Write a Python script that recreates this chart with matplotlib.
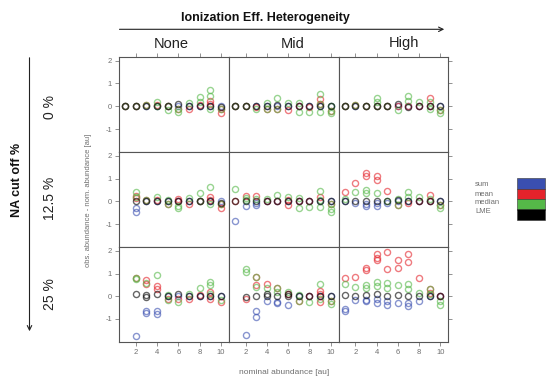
import numpy as np
import matplotlib
matplotlib.use("Agg")
import matplotlib.pyplot as plt
from matplotlib.patches import Rectangle

plt.rcParams['font.family'] = ['Liberation Sans', 'DejaVu Sans']

# ---------------- data ----------------
x_vals = [1, 2, 3, 4, 5, 6, 7, 8, 9, 10]
x_ticks = [2, 4, 6, 8, 10]
y_ticks = [-1, 0, 1, 2]
col_labels = ["None", "Mid", "High"]
row_labels = ["0 %", "12.5 %", "25 %"]
methods = ["sum", "mean", "median", "LME"]
method_colors = ["#3a4fb0", "#e4232b", "#55b848", "#000000"]

# each list: one list of replicate values per nominal abundance 1..10
none_0_sum = [[0], [0], [0], [0], [0], [0], [0], [0], [0], [0]]
none_0_mean = [[0], [0], [0.05], [0.05], [0], [-0.1], [-0.1], [0.05], [0.25, 0.1], [-0.1, -0.3]]
none_0_median = [[0], [0], [0.05], [0.2, 0], [0, -0.15], [-0.1, -0.25], [0.15], [0.4, 0.2], [0.7, 0.45, -0.1], [-0.1]]
none_0_lme = [[0], [0], [0], [0], [0], [0.1], [0], [0], [0], [-0.05]]

mid_0_sum = [[0], [0], [0], [0], [0], [0], [0], [0], [0], [0]]
mid_0_mean = [[0], [0], [-0.05], [-0.1], [-0.1], [-0.15], [0], [-0.05], [0.3, 0.1], [-0.2]]
mid_0_median = [[0], [0], [-0.1], [0.15, -0.1], [0.35, -0.1], [0.15], [0.15, -0.25], [-0.25], [0.55, 0.1, -0.25], [0, -0.3, -0.2]]
mid_0_lme = [[0], [0], [0], [0], [0.05], [0], [0], [0], [0], [0]]

high_0_sum = [[0], [0], [0], [0], [0], [0], [0], [0], [0], [0]]
high_0_mean = [[0], [0.05], [0], [0], [0], [0], [0], [0], [0.35, 0], [-0.15]]
high_0_median = [[0], [0.05], [0], [0.35, 0.2, 0], [0], [-0.15], [0.45, 0.25], [0.2], [0.2, -0.1], [-0.15, -0.3]]
high_0_lme = [[0], [0], [0], [0], [0], [0.1], [-0.05], [0], [0], [0]]

none_12_sum = [[], [-0.3, -0.45], [0], [0], [0], [0], [0], [0], [0], [0]]
none_12_mean = [[], [0.25, 0.15], [0.05], [0.05], [-0.1], [0, 0.1], [-0.1], [0], [0.2, 0.05], [-0.3, -0.1]]
none_12_median = [[], [0.4, 0.2], [0.05], [0.2], [0.05, -0.1], [-0.2, -0.3], [0.15], [0.35, 0], [0.65, -0.1], [-0.1]]
none_12_lme = [[], [0], [0], [0], [0], [0], [0], [0], [0], [-0.05]]

mid_12_sum = [[-0.85], [-0.2], [-0.05, -0.15], [0], [0], [0], [0], [0], [0], [0]]
mid_12_mean = [[0], [0.25], [0.25], [0], [0], [0.05, -0.15], [0], [0], [0.2], [-0.1]]
mid_12_median = [[0.55], [0.15, 0.05], [0.1], [0.1], [0.3], [0.2], [0.15, -0.3], [-0.25], [0.45, 0.05, -0.25], [-0.1, -0.35, -0.45]]
mid_12_lme = [[0], [0], [0], [0], [0], [0], [0], [0], [0], [0]]

high_12_sum = [[0], [-0.05], [-0.1, -0.2], [-0.05, -0.2], [-0.05], [0], [0], [0], [0], [0]]
high_12_mean = [[0.4], [0.8], [1.25, 1.1], [1.1, 0.95], [0.45], [-0.15], [-0.05], [0], [0.3, 0], [-0.15]]
high_12_median = [[0.1], [0.4], [0.5, 0.35], [0.35], [0], [0.1, -0.15], [0.4, 0.2], [0.2], [0.1], [-0.15, -0.3]]
high_12_lme = [[0], [0], [0], [0], [0], [0.05], [0], [0], [0], [0]]

none_25_sum = [[], [-1.75], [-0.65, -0.75], [-0.65, -0.8], [0], [0], [0], [0], [0], [0]]
none_25_mean = [[], [0.8], [0.7, 0.55], [0.45, 0.3], [-0.1], [-0.1], [-0.1], [0.05], [0.2, -0.1], [-0.25]]
none_25_median = [[], [0.8, 0.75], [0.6], [0.95], [0.05, -0.15], [-0.25], [0.1], [0.35], [0.65, 0.5, 0.1], [-0.15]]
none_25_lme = [[], [0.1], [0.05, -0.05], [0.1], [0], [0.1], [0], [0], [0], [0]]

mid_25_sum = [[], [-1.7], [-0.65, -0.9], [-0.2], [-0.25, -0.3], [-0.4], [0], [0], [0], [0]]
mid_25_mean = [[], [-0.1], [0.85, 0.5], [0.55], [0.35], [0.1], [-0.2], [0], [0.25, 0.1, -0.25], [-0.2]]
mid_25_median = [[], [1.2, 1.05], [0.85, 0.4], [0.35], [0.35, 0.2], [0.2], [0.05, -0.2], [-0.25], [0.55, -0.1], [-0.2, -0.35]]
mid_25_lme = [[], [-0.05], [0], [0.1, 0], [0], [0.1, 0], [0], [0], [0], [0]]

high_25_sum = [[-0.55, -0.65], [-0.15], [-0.15, -0.2], [-0.1, -0.3], [-0.2, -0.4], [-0.3], [-0.3, -0.45], [-0.2], [0], [0]]
high_25_mean = [[0.8], [0.85], [1.25, 1.15], [1.85, 1.7, 1.6], [1.95, 1.2], [1.6, 1.25], [1.85, 1.5], [0.8], [0.3, 0.15], [0]]
high_25_median = [[0.55], [0.4], [0.5, 0.35], [0.65, 0.45], [0.6, 0.35], [0.5], [0.55, 0.3], [0.15], [0.3, 0.1], [-0.2, -0.4]]
high_25_lme = [[0.05], [0], [0.05], [0.1], [0], [0.05], [0], [0], [0], [0]]

panels = [
    [(none_0_sum, none_0_mean, none_0_median, none_0_lme),
     (mid_0_sum, mid_0_mean, mid_0_median, mid_0_lme),
     (high_0_sum, high_0_mean, high_0_median, high_0_lme)],
    [(none_12_sum, none_12_mean, none_12_median, none_12_lme),
     (mid_12_sum, mid_12_mean, mid_12_median, mid_12_lme),
     (high_12_sum, high_12_mean, high_12_median, high_12_lme)],
    [(none_25_sum, none_25_mean, none_25_median, none_25_lme),
     (mid_25_sum, mid_25_mean, mid_25_median, mid_25_lme),
     (high_25_sum, high_25_mean, high_25_median, high_25_lme)],
]

# ---------------- figure ----------------
W, H = 546, 379
fig = plt.figure(figsize=(W / 100, H / 100), dpi=100)

col_edges = [119, 228.8, 338.6, 448.3]
row_edges = [57, 152.3, 247.3, 342]
gray = "#6f6f6f"
tick_gray = "#808080"

for r in range(3):
    for c in range(3):
        x0, x1 = col_edges[c], col_edges[c + 1]
        y0, y1 = row_edges[r], row_edges[r + 1]
        ax = fig.add_axes([x0 / W, 1 - y1 / H, (x1 - x0) / W, (y1 - y0) / H])
        for series, col in zip(panels[r][c], method_colors):
            xs, ys = [], []
            for xv, reps in zip(x_vals, series):
                for v in reps:
                    xs.append(xv)
                    ys.append(v)
            ax.plot(xs, ys, linestyle="none", marker="o", markersize=4.4,
                    markerfacecolor="none", markeredgecolor=col,
                    markeredgewidth=1.0, alpha=0.6)
        ax.set_xlim(0.42, 10.75)
        ax.set_ylim(-2.02, 2.16)
        for s in ax.spines.values():
            s.set_color("#555555")
            s.set_linewidth(0.8)
        ax.set_xticks(x_ticks)
        ax.set_yticks(y_ticks)
        ax.tick_params(direction="out", length=3, width=0.6, color=tick_gray,
                       labelsize=5.5, labelcolor=gray, pad=2)
        ax.tick_params(axis="x", bottom=(r == 2), labelbottom=(r == 2),
                       top=(r == 0), labeltop=False)
        ax.tick_params(axis="y", left=(c == 0), labelleft=(c == 0),
                       right=(c == 2), labelright=False)
        ax.set_yticklabels(["-1", "0", "1", "2"])

# axis labels
fig.text(284 / W, 1 - 372 / H, "nominal abundance [au]", ha="center", va="center",
         fontsize=6, color=gray)
fig.text(88 / W, 1 - 200 / H, "obs. abundance - nom. abundance [au]", ha="center",
         va="center", rotation=90, fontsize=5.5, color=gray)

# column strip labels
for lab, xp in zip(col_labels, [171.7, 292.7, 404]):
    fig.text(xp / W, 1 - 43.5 / H, lab, ha="center", va="center", fontsize=10.5,
             color="#222222")

# title + arrow
fig.text(265.5 / W, 1 - 18 / H, "Ionization Eff. Heterogeneity", ha="center",
         va="center", fontsize=9, fontweight="bold", color="#111111")
fig.add_artist(matplotlib.patches.FancyArrowPatch(
    (116.7 / W, 1 - 29.3 / H), (447 / W, 1 - 29.3 / H), transform=fig.transFigure,
    arrowstyle="->", mutation_scale=8, lw=0.8, color="#222222"))

# left label + arrow
fig.text(17 / W, 1 - 180 / H, "NA cut off %", ha="center", va="center", rotation=90,
         fontsize=9, fontweight="bold", color="#111111")
fig.add_artist(matplotlib.patches.FancyArrowPatch(
    (29.5 / W, 1 - 55 / H), (29.5 / W, 1 - 334 / H), transform=fig.transFigure,
    arrowstyle="->", mutation_scale=8, lw=0.8, color="#222222"))

for lab, yp in zip(row_labels, [107, 198, 294]):
    fig.text(50 / W, 1 - yp / H, lab, ha="center", va="center", rotation=90,
             fontsize=10, color="#222222")

# legend
leg_y = [185, 194, 203, 211.7]
for lab, yp in zip(methods, leg_y):
    fig.text(475 / W, 1 - yp / H, lab, ha="left", va="center", fontsize=5.5, color=gray)
box_top, box_h = 178.3, 10.4
for i, col in enumerate(method_colors):
    fig.add_artist(Rectangle((516.7 / W, 1 - (box_top + (i + 1) * box_h) / H),
                             28.3 / W, box_h / H, transform=fig.transFigure,
                             facecolor=col, edgecolor="#333333", lw=0.4))

fig.savefig("out.png", dpi=100)
